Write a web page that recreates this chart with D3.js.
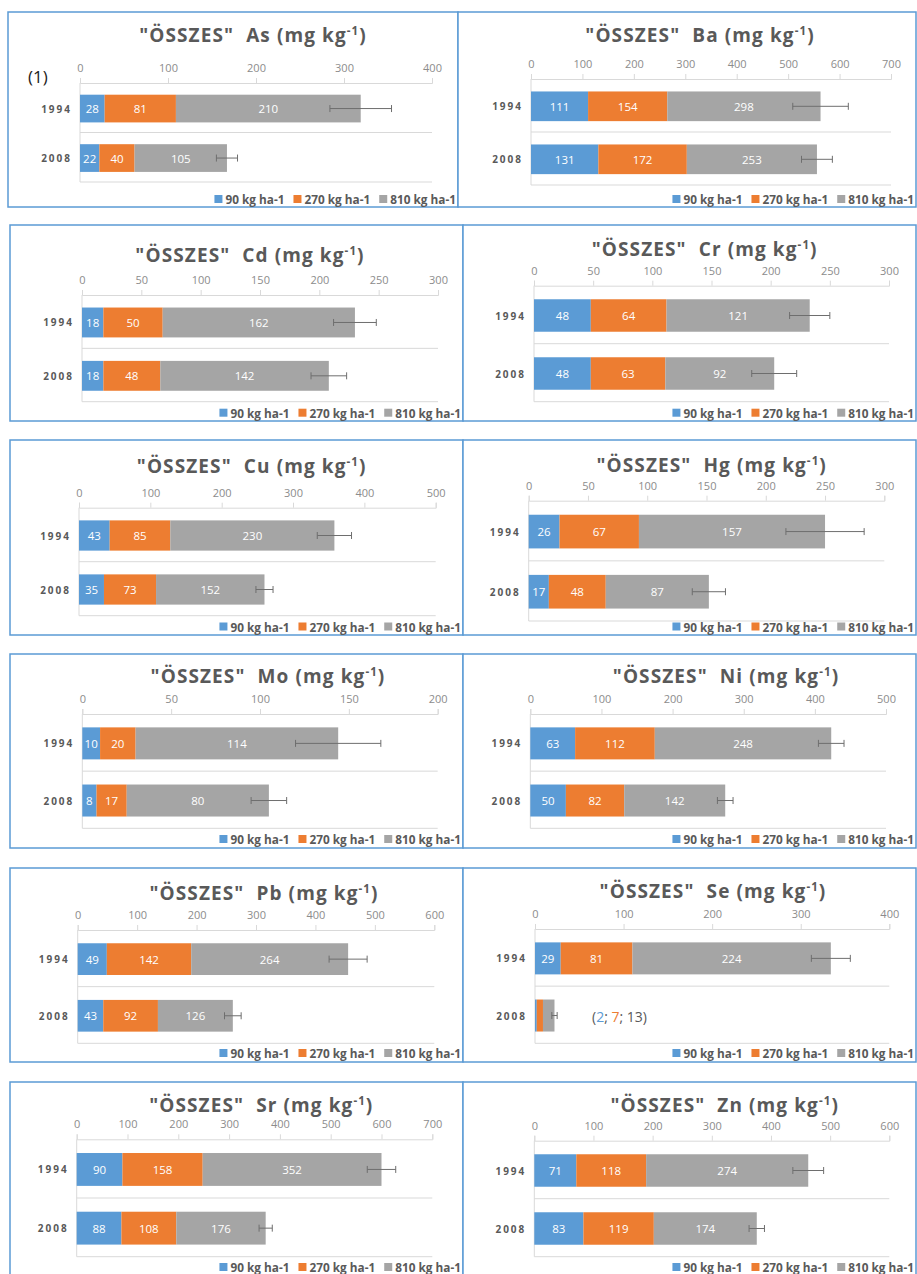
<html>
<head>
<meta charset="utf-8">
<style>
  body { margin: 0; background: #fff; }
  text { font-family: "Open Sans", "DejaVu Sans", sans-serif; }
  .title { font-weight: bold; font-size: 19px; fill: #595959; letter-spacing: 1.1px; white-space: pre; }
  .tick text { font-size: 11px; fill: #8c8c8c; }
  .tick line, .domain { stroke: #d9d9d9; }
  .grid { stroke: #d9d9d9; stroke-width: 1; }
  .year { font-weight: bold; font-size: 10px; fill: #595959; letter-spacing: 2px; }
  .val { font-size: 11.5px; fill: #fff; }
  .leg { font-weight: bold; font-size: 11.8px; fill: #595959; }
</style>
</head>
<body>
<svg id="container" width="917" height="1274"></svg>
<script src="https://cdn.jsdelivr.net/npm/d3@7"></script>
<script>
  // data
  const elements = ["As", "Ba", "Cd", "Cr", "Cu", "Hg", "Mo", "Ni", "Pb", "Se", "Sr", "Zn"]
  const years = ["1994", "2008"]
  const series = ["90 kg ha-1", "270 kg ha-1", "810 kg ha-1"]
  const axisMax = [400, 700, 300, 300, 500, 300, 200, 500, 600, 400, 700, 600]
  const tickStep = [100, 100, 50, 50, 100, 50, 50, 100, 100, 100, 100, 100]
  const dose90 = [[28, 22], [111, 131], [18, 18], [48, 48], [43, 35], [26, 17], [10, 8], [63, 50], [49, 43], [29, 2], [90, 88], [71, 83]]
  const dose270 = [[81, 40], [154, 172], [50, 48], [64, 63], [85, 73], [67, 48], [20, 17], [112, 82], [142, 92], [81, 7], [158, 108], [118, 119]]
  const dose810 = [[210, 105], [298, 253], [162, 142], [121, 92], [230, 152], [157, 87], [114, 80], [248, 142], [264, 126], [224, 13], [352, 176], [274, 174]]
  const errors = [[35, 12], [54, 30], [18, 15], [17, 19], [24, 12], [33, 14], [24, 10], [18, 11], [32, 14], [22, 3], [28, 13], [26, 13]]
  const seNote = [["(", 0], ["2", 1], ["; ", 0], ["7", 2], ["; 13)", 0]]

  const colors = ["#5b9bd5", "#ed7d31", "#a5a5a5"]
  const noteColors = ["#595959", "#5b9bd5", "#ed7d31"]

  // layout: panel boxes [x, y, w, h] and plot areas [x0, x1, y0, y1, titleX, titleY, legendY]
  const boxes = [
    [8, 12, 450, 195], [458, 12, 458, 195],
    [10, 225, 453, 196], [463, 225, 453, 196],
    [10, 440, 453, 195], [463, 440, 453, 195],
    [10, 654, 453, 194], [463, 654, 453, 194],
    [10, 868, 453, 194], [463, 868, 453, 194],
    [10, 1082, 453, 220], [463, 1082, 453, 220]
  ]
  const plots = [
    [80, 432, 83, 182, 253, 42, 199], [531, 891, 79, 185, 700, 42, 199],
    [82, 438, 295, 401.7, 250, 261.7, 412.7], [534, 889, 285.7, 401.7, 704.7, 255.7, 412.7],
    [79, 435.7, 507.7, 615.7, 251.7, 473, 626.5], [528.7, 884.3, 500.7, 621, 711.7, 471.7, 626.5],
    [82.3, 437.7, 714, 828.3, 268, 683.3, 839], [530.3, 886, 714, 828.3, 726, 683.3, 839],
    [77.7, 434.3, 930, 1043.3, 264, 900, 1053], [535, 889.3, 929, 1043.3, 713, 898.3, 1053],
    [76.7, 432.3, 1139.3, 1256.7, 261.3, 1111.7, 1267], [534.3, 889.3, 1140.7, 1256.7, 724.7, 1111.7, 1267]
  ]

  let svg = d3.select("#container")

  elements.forEach((el, i) => {
    let [bx, by, bw, bh] = boxes[i]
    let [x0, x1, y0, y1, tx, ty, ly] = plots[i]
    let g = svg.append("g")

    g.append("rect")
      .attr("x", bx).attr("y", by).attr("width", bw).attr("height", bh)
      .attr("fill", "white").attr("stroke", "#5b9bd5").attr("stroke-width", 1.5)

    // title
    let t = g.append("text").attr("class", "title")
      .attr("x", tx).attr("y", ty).attr("text-anchor", "middle")
    t.append("tspan").text(`"ÖSSZES"  ${el} (mg kg`)
    t.append("tspan").attr("dy", -7).attr("font-size", "11.5px").text("-1")
    t.append("tspan").attr("dy", 7).text(")")

    let x = d3.scaleLinear().domain([0, axisMax[i]]).range([x0, x1])
    let y = d3.scaleBand().domain(years).range([y0, y1])

    let axis = d3.axisTop(x)
      .tickValues(d3.range(0, axisMax[i] + 1, tickStep[i]))
      .tickSize(5).tickPadding(6)
    g.append("g").attr("transform", `translate(0,${y0})`).call(axis)
      .call(a => a.selectAll("text").attr("font-family", null))

    // category lines
    g.append("line").attr("class", "grid")
      .attr("x1", x0).attr("x2", x0).attr("y1", y0).attr("y2", y1)
    years.forEach(yr => {
      g.append("line").attr("class", "grid")
        .attr("x1", x0).attr("x2", x1)
        .attr("y1", y(yr) + y.bandwidth()).attr("y2", y(yr) + y.bandwidth())
    })

    // stacked bars
    years.forEach((yr, j) => {
      let vals = [dose90[i][j], dose270[i][j], dose810[i][j]]
      let barH = y.bandwidth() * 0.56
      let cy = y(yr) + y.bandwidth() / 2 + 0.8
      let start = 0
      vals.forEach((v, k) => {
        g.append("rect")
          .attr("x", x(start)).attr("y", cy - barH / 2)
          .attr("width", x(start + v) - x(start)).attr("height", barH)
          .attr("fill", colors[k])
        if (x(start + v) - x(start) > 13) {
          g.append("text").attr("class", "val")
            .attr("x", (x(start) + x(start + v)) / 2).attr("y", cy)
            .attr("text-anchor", "middle").attr("dominant-baseline", "central")
            .text(v)
        }
        start += v
      })
      // error bar
      let e = errors[i][j]
      g.append("line").attr("stroke", "#6e6e6e")
        .attr("x1", x(start - e)).attr("x2", x(start + e)).attr("y1", cy).attr("y2", cy)
      for (let ex of [start - e, start + e]) {
        g.append("line").attr("stroke", "#6e6e6e")
          .attr("x1", x(ex)).attr("x2", x(ex)).attr("y1", cy - 3.5).attr("y2", cy + 3.5)
      }
      g.append("text").attr("class", "year")
        .attr("x", x0 - 8).attr("y", cy).attr("text-anchor", "end")
        .attr("dominant-baseline", "central").text(yr)

      if (el == "Se" && yr == "2008") {
        let n = g.append("text").attr("x", 592).attr("y", cy)
          .attr("dominant-baseline", "central")
          .attr("font-size", "14px").style("white-space", "pre")
        seNote.forEach(p => n.append("tspan").attr("fill", noteColors[p[1]]).text(p[0]))
      }
    })

    // legend, placed so that it ends at the right edge of the panel
    let leg = g.append("g")
    let lx = 0
    series.forEach((s, k) => {
      leg.append("rect").attr("x", lx).attr("y", ly - 4).attr("width", 8).attr("height", 8)
        .attr("fill", colors[k])
      let lt = leg.append("text").attr("class", "leg")
        .attr("x", lx + 11).attr("y", ly).attr("dominant-baseline", "central").text(s)
      lx += 11 + lt.node().getComputedTextLength() + (k < 2 ? 9 : 0)
    })
    leg.attr("transform", `translate(${bx + bw - 2 - lx},0)`)
  })

  svg.append("text").attr("x", 28).attr("y", 76).attr("dominant-baseline", "central")
    .attr("font-size", "17px").attr("fill", "#222").text("(1)")
</script>
</body>
</html>
